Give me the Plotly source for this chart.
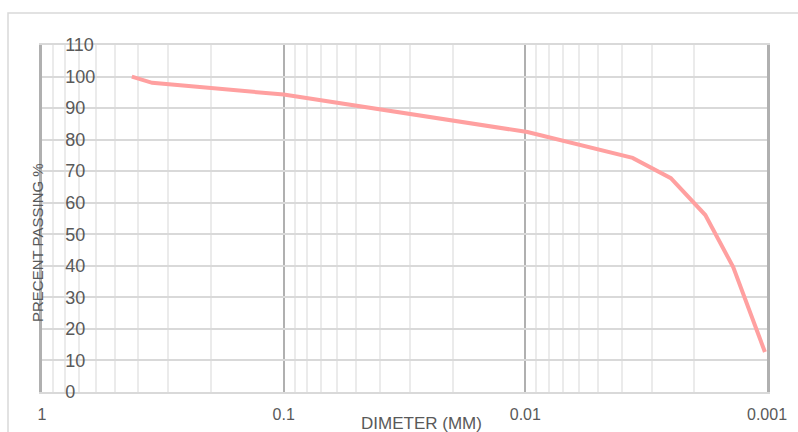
import plotly.graph_objects as go

diameter_mm = [0.425, 0.35, 0.1, 0.0098, 0.0036, 0.0025, 0.0018, 0.00138, 0.00102]
percent_passing = [100.0, 98.0, 94.3, 82.4, 74.2, 67.8, 56.1, 39.6, 12.7]

major_ticks = [1, 0.1, 0.01, 0.001]
major_labels = ["1", "0.1", "0.01", "0.001"]
minor_ticks = [m * d for d in [0.1, 0.01, 0.001] for m in range(2, 10)]
y_ticks = list(range(0, 111, 10))

W, H = 798, 432
L, R, T, B = 42, 31, 45, 40
pw, ph = W - L - R, H - T - B

font_fam = "Liberation Sans Narrow, Arial Narrow, Liberation Sans, sans-serif"
txt = "#595959"

fig = go.Figure()
fig.add_trace(go.Scatter(
    x=diameter_mm, y=percent_passing, mode="lines",
    line=dict(color="#ffa0a0", width=4),
    showlegend=False,
))

fig.update_layout(
    width=W, height=H,
    margin=dict(l=L, r=R, t=T, b=B, autoexpand=False),
    paper_bgcolor="white", plot_bgcolor="white",
    font=dict(family=font_fam, color=txt, size=15),
    xaxis=dict(
        type="log", range=[0, -3], automargin=False,
        tickmode="array", tickvals=major_ticks, ticktext=major_labels,
        showgrid=True, gridcolor="#b0b0b0", gridwidth=2,
        minor=dict(tickmode="array", tickvals=minor_ticks, showgrid=True,
                   gridcolor="#ebebeb", gridwidth=1.5),
        showline=True, linecolor="#d9d9d9", linewidth=2, mirror=True,
        zeroline=False, ticks="", ticklabelstandoff=7,
        ticklabeloverflow="allow",
        tickfont=dict(size=16, color=txt),
    ),
    yaxis=dict(
        range=[0, 110], tickmode="array", tickvals=y_ticks, automargin=False,
        showgrid=True, gridcolor="#d9d9d9", gridwidth=1.5,
        showline=True, linecolor="#b0b0b0", linewidth=2.5, mirror=True,
        zeroline=False, ticks="",
        ticklabelposition="inside", ticklabelstandoff=24,
        ticklabeloverflow="allow",
        tickfont=dict(size=18, color=txt),
    ),
    annotations=[
        dict(text="DIMETER (MM)", xref="paper", yref="paper",
             x=(421 - L) / pw, y=-(423 - (H - B)) / ph,
             xanchor="center", yanchor="middle", showarrow=False,
             font=dict(size=17, color=txt)),
        dict(text="PRECENT PASSING %", xref="paper", yref="paper",
             x=(37 - L) / pw, y=((H - B) - 243) / ph, textangle=-90,
             xanchor="center", yanchor="middle", showarrow=False,
             font=dict(size=15, color=txt)),
    ],
    shapes=[
        dict(type="path", xref="paper", yref="paper",
             path=f"M {(8 - L) / pw} {-(B + 5) / ph} L {(8 - L) / pw} {1 + (T - 13) / ph} L {1 + (R + 5) / pw} {1 + (T - 13) / ph}",
             line=dict(color="#d9d9d9", width=1.5)),
    ],
)

fig.write_html("out.html", config={"displayModeBar": False},
               post_script="document.body.style.margin='0';document.body.style.overflow='hidden';")
